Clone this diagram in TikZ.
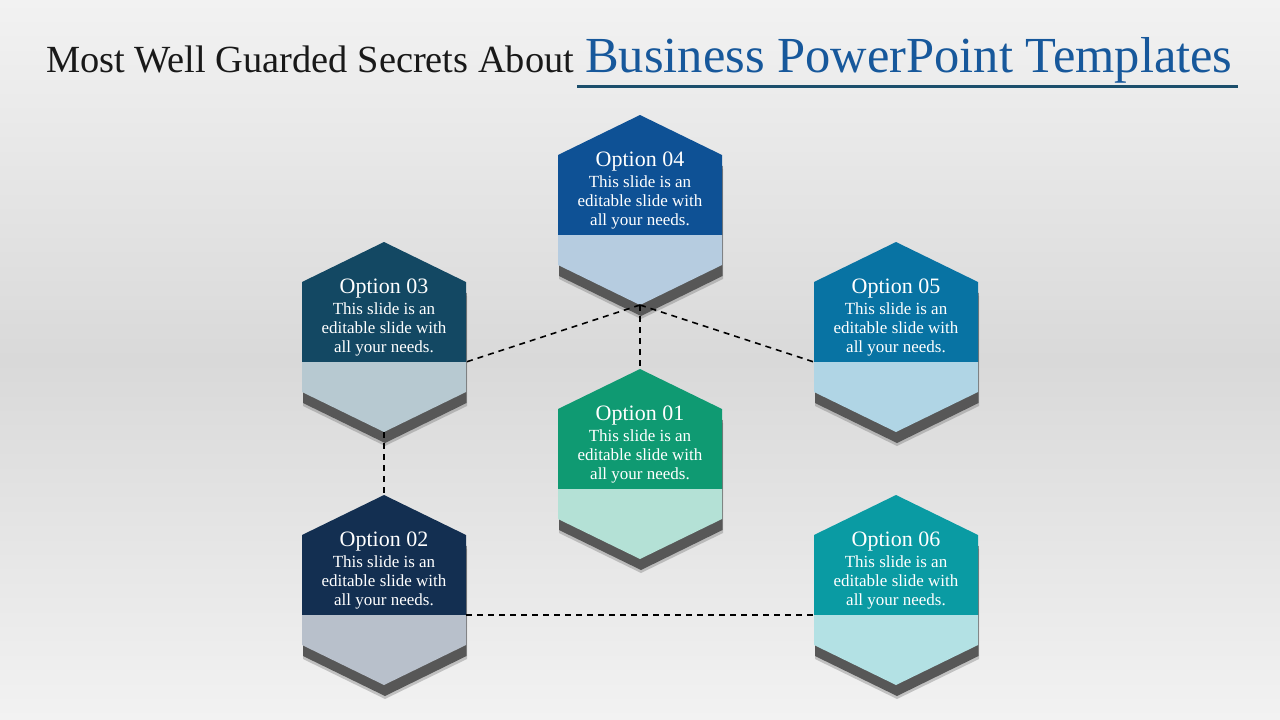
\documentclass[tikz,border=0pt]{standalone}
\usepackage{fontspec}
\setmainfont{Liberation Serif}

\definecolor{bgtop}{HTML}{F2F2F2}
\definecolor{bgmid}{HTML}{D9D9D9}
\definecolor{titleblue}{HTML}{17589B}
\definecolor{rulecol}{HTML}{1B4E6B}
\definecolor{dkone}{HTML}{0F9A72}   \definecolor{ltone}{HTML}{B4E1D6}
\definecolor{dktwo}{HTML}{132F51}   \definecolor{lttwo}{HTML}{B8C0CB}
\definecolor{dkthree}{HTML}{134863} \definecolor{ltthree}{HTML}{B7C9D1}
\definecolor{dkfour}{HTML}{0E5195}  \definecolor{ltfour}{HTML}{B6CCE0}
\definecolor{dkfive}{HTML}{0873A3}  \definecolor{ltfive}{HTML}{B0D5E5}
\definecolor{dksix}{HTML}{0A9BA3}   \definecolor{ltsix}{HTML}{B3E1E4}

\tikzset{
  optitle/.style={text=white, font=\fontsize{22}{25}\selectfont},
  optbody/.style={text=white, align=center, font=\fontsize{17}{19}\selectfont},
  link/.style={draw=black, line width=1.6pt, dash pattern=on 6pt off 5pt},
  hexshadow/.style={fill=black!66},
}

\begin{document}
\begin{tikzpicture}[x=1pt,y=-1pt]
  \useasboundingbox (0,0) rectangle (1280,720);
  \fill [top color=bgtop, bottom color=bgtop, middle color=bgmid] (0,0) rectangle (1280,720);

  % heading
  \node [anchor=base west, inner sep=0, font=\fontsize{38.4}{40}\selectfont, text=black!90]
        (headleft) at (46,72) {Most Well Guarded Secrets About};
  \node [anchor=base west, inner sep=0, font=\fontsize{50.5}{52}\selectfont, text=titleblue]
        (headright) at (585,72) {Business PowerPoint Templates};
  \draw [rulecol, line width=3pt] (577,86) -- (1238,86);

  % hexagons
  \foreach \n/\cx/\cy/\dk/\lt in {01/640/464/dkone/ltone, 02/384/590/dktwo/lttwo,
      03/384/337/dkthree/ltthree, 04/640/210/dkfour/ltfour,
      05/896/337/dkfive/ltfive, 06/896/590/dksix/ltsix}
  {
    \fill [hexshadow, opacity=0.3] (\cx+1,\cy-81) -- (\cx+83,\cy-41) -- (\cx+83,\cy+69)
          -- (\cx+1,\cy+109) -- (\cx-81,\cy+69) -- (\cx-81,\cy-41) -- cycle;
    \fill [hexshadow] (\cx+1,\cy-84) -- (\cx+82.5,\cy-44) -- (\cx+82.5,\cy+66)
          -- (\cx+1,\cy+106) -- (\cx-81,\cy+66) -- (\cx-81,\cy-44) -- cycle;
    \fill [\dk] (\cx,\cy-95) -- (\cx+82,\cy-55) -- (\cx+82,\cy+25)
          -- (\cx-82,\cy+25) -- (\cx-82,\cy-55) -- cycle;
    \fill [\lt] (\cx-82,\cy+25) -- (\cx+82,\cy+25) -- (\cx+82,\cy+55)
          -- (\cx,\cy+95) -- (\cx-82,\cy+55) -- cycle;

    \coordinate (h\n-top) at (\cx,\cy-95);
    \coordinate (h\n-bot) at (\cx,\cy+95);
    \coordinate (h\n-l) at (\cx-82,\cy+25);
    \coordinate (h\n-r) at (\cx+82,\cy+25);

    \node [optitle] (t\n) at (\cx,\cy-48) {Option \n};
    \node [optbody] (b\n) at (\cx,\cy-8) {This slide is an\\editable slide with\\all your needs.};
  }

  % dashed links
  \draw [link] (h04-bot) -- (h03-r);
  \draw [link] (h04-bot) -- (h05-l);
  \draw [link] (h04-bot) -- (h01-top);
  \draw [link] (h03-bot) -- (h02-top);
  \draw [link] (h02-r) -- (h06-l);

\end{tikzpicture}
\end{document}
